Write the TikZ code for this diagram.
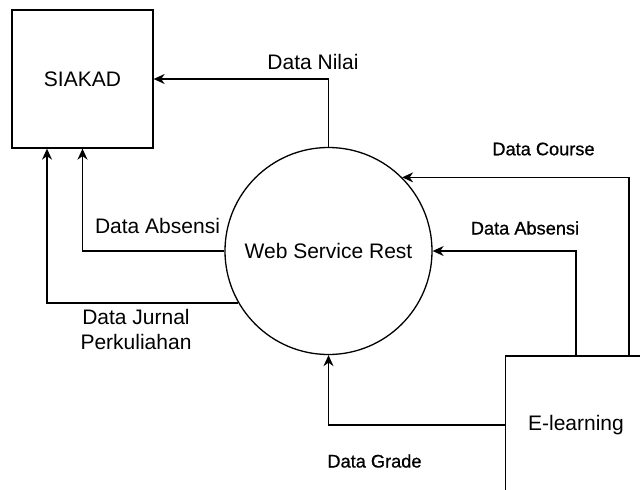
\documentclass[tikz,border=0pt]{standalone}
\usepackage{fontspec}
\setmainfont{Liberation Sans}
\newfontfamily\flowfont[FakeBold=0.8]{Liberation Sans}
\usetikzlibrary{arrows.meta}

\begin{document}
\begin{tikzpicture}[x=1pt,y=-1pt,
  flow/.style={draw, line width=1.3pt, -{Stealth[length=11pt,width=10pt,inset=3.5pt]}},
  entity/.style={draw, line width=1.3pt, minimum width=141pt, minimum height=138pt,
    inner sep=0pt, font=\fontsize{21}{25}\selectfont},
  proc/.style={draw, circle, line width=1.3pt, minimum size=207pt, inner sep=0pt,
    font=\fontsize{21}{25}\selectfont},
  biglabel/.style={inner sep=0pt, align=center, font=\fontsize{21}{25}\selectfont},
  smalllabel/.style={inner sep=0pt, font=\flowfont\fontsize{18.2}{22}\selectfont}]
\useasboundingbox (0,0) rectangle (640,490);
\clip (0,0) rectangle (640,490);

% external entities and the process
\node[entity] (siakad) at (82.5,79) {SIAKAD};
\node[entity] (elearn) at (576,425) {E-learning};
\node[proc] (ws) at (328.5,251) {Web Service Rest};

% data flows
\draw[flow] (ws.north) |- (siakad.east);
\draw[flow] (ws.west) -| (siakad.south);
\draw[flow] (ws.210) -| ([xshift=-35.5pt]siakad.south);
\draw[flow] ([xshift=53pt]elearn.north) |- (ws.45);
\draw[flow] (elearn.north) |- (ws.east);
\draw[flow] (elearn.west) -| (ws.south);

% flow labels
\node[biglabel] (lnilai) at (313,62) {Data Nilai};
\node[biglabel] (labsl) at (157.5,226) {Data Absensi};
\node[biglabel] (ljurnal) at (136,329.5) {Data Jurnal\\Perkuliahan};
\node[smalllabel] (lcourse) at (543.5,149) {Data Course};
\node[smalllabel] (labsr) at (525,228) {Data Absensi};
\node[smalllabel] (lgrade) at (374.5,461) {Data Grade};
\end{tikzpicture}
\end{document}
